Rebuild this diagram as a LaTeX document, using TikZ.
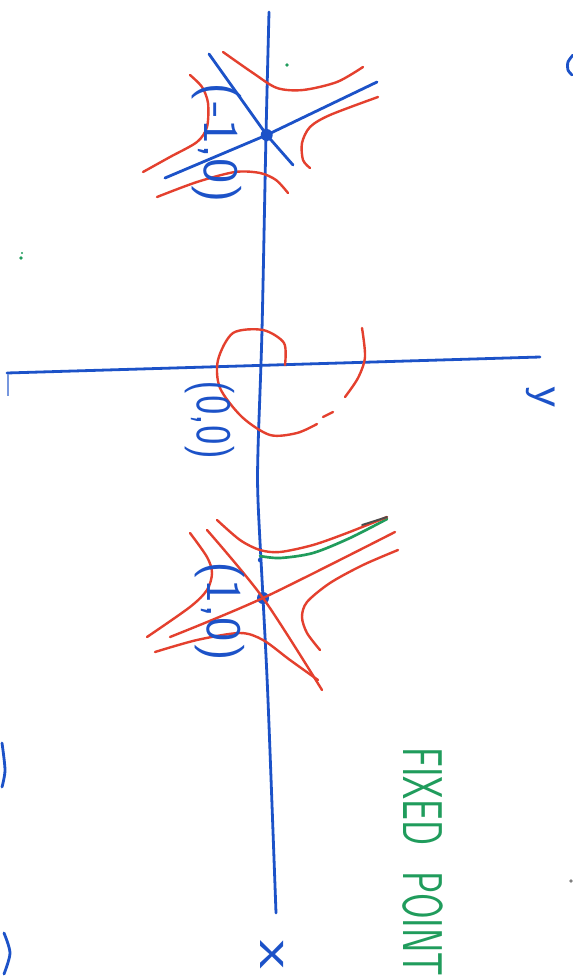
\documentclass[tikz,border=0pt]{standalone}
\usepackage{fontspec}
\definecolor{pblue}{RGB}{28,82,200}
\definecolor{pred}{RGB}{228,64,46}
\definecolor{pgreen}{RGB}{32,156,92}
\newcommand{\tallbox}[2]{\scalebox{#1}[1.2]{#2}}
\begin{document}
\begin{tikzpicture}[x=0.75pt,y=-0.75pt,
  ax/.style={pblue,line width=2.1pt,line cap=round,line join=round},
  br/.style={pred,line width=1.8pt,line cap=round,line join=round},
  gr/.style={pgreen,line width=2pt,line cap=round},
  lbl/.style={pblue,rotate=-90,inner sep=0pt,font=\fontsize{31}{31}\selectfont\sffamily},
  dotn/.style={circle,fill=pblue,inner sep=0pt,minimum size=9pt}]
\useasboundingbox[fill=white] (0,0) rectangle (573,977);

% axes
\draw[ax] plot[smooth] coordinates {(269,12) (266,135) (262,330) (258,450) (258,500) (263,598) (268,700) (276,913)};
\draw[ax] (7,373) -- (540,357);
\draw[pblue!60,line width=1.5pt] (8,374) -- (8,396);

% ---------- top saddle ----------
\node[dotn] (ptop) at (266.7,135) {};
\draw[ax] (209,54) -- (ptop.center) -- (293,165);
\draw[ax] (165,178) -- (ptop.center) -- (377,82);
\draw[br] plot[smooth] coordinates {(223,52) (253,73) (277,88) (303,90) (337,82) (363,67)};
\draw[br] plot[smooth] coordinates {(378,97) (330,115) (310,127) (302,143) (303,160) (310,168)};
\draw[br] plot[smooth] coordinates {(190,75) (202,87) (208,103) (207,127) (197,142) (170,157) (143,172)};
\draw[br] plot[smooth] coordinates {(157,197) (197,182) (235,172) (260,173) (276,180) (288,193)};
\node[lbl] (ltop) at (217,143) {\tallbox{1.3}{(-1,0)}};

% ---------- origin ----------
\draw[br] plot[smooth] coordinates {(285,365) (284,343) (263,330) (233,333) (218,360) (220,388) (242,417) (270,435) (297,433) (317,424)};
\draw[br] (323,417) -- (333,412);
\draw[br] plot[smooth] coordinates {(345,397) (358,378) (365,357) (362,328)};
\node[lbl] (lorig) at (210,420) {\tallbox{1.0}{(0,0)}};

% ---------- bottom saddle ----------
\node[dotn] (pbot) at (263,598) {};
\draw[gr] plot[smooth] coordinates {(260,556) (280,558) (313,553) (350,538) (387,519)};
\draw[br] plot[smooth] coordinates {(217,520) (240,540) (260,550) (280,552) (313,545) (347,533) (387,517)};
\draw[black!70,line width=1.4pt,line cap=round] (362,525) -- (387,517);
\draw[br] plot[smooth] coordinates {(170,637) (pbot.center) (395,532)};
\draw[br] plot[smooth] coordinates {(207,530) (pbot.center) (322,690)};
\draw[br] plot[smooth] coordinates {(398,550) (363,565) (330,583) (307,602) (302,617) (307,633) (320,650)};
\draw[br] plot[smooth] coordinates {(190,533) (207,557) (212,573) (207,590) (190,607) (147,637)};
\draw[br] plot[smooth] coordinates {(155,652) (197,640) (240,633) (263,640) (290,660) (318,680)};
\fill[pblue] (260,560) circle (2.2);
\node[lbl] (lbot) at (220,611) {\tallbox{1.25}{(1,0)}};

% axis labels
\node[lbl] (lx) at (272,955) {\scalebox{1.6}[1.3]{x}};
\node[lbl] (ly) at (541,397) {\scalebox{1.2}[1.1]{y}};

% green caption
\node[pgreen,rotate=-90,anchor=west,inner sep=0pt,font=\fontsize{42}{42}\selectfont\sffamily] (cap) at (423,747) {\scalebox{0.66}[1]{FIXED\hspace{29pt}POINT}};

% stray marks
\fill[pgreen] (287,65) circle (1.8);
\fill[pgreen] (21,258) circle (1.8);
\fill[pgreen] (22,253) circle (1.2);
\fill[black!50] (571,881) circle (1.8);
\draw[ax] plot[smooth] coordinates {(573,55) (568,62) (568,70) (572,75)};
\draw[ax] plot[smooth] coordinates {(2,743) (5,770) (2,787)};
\draw[ax] plot[smooth] coordinates {(4,933) (10,953) (4,974)};
\end{tikzpicture}
\end{document}
